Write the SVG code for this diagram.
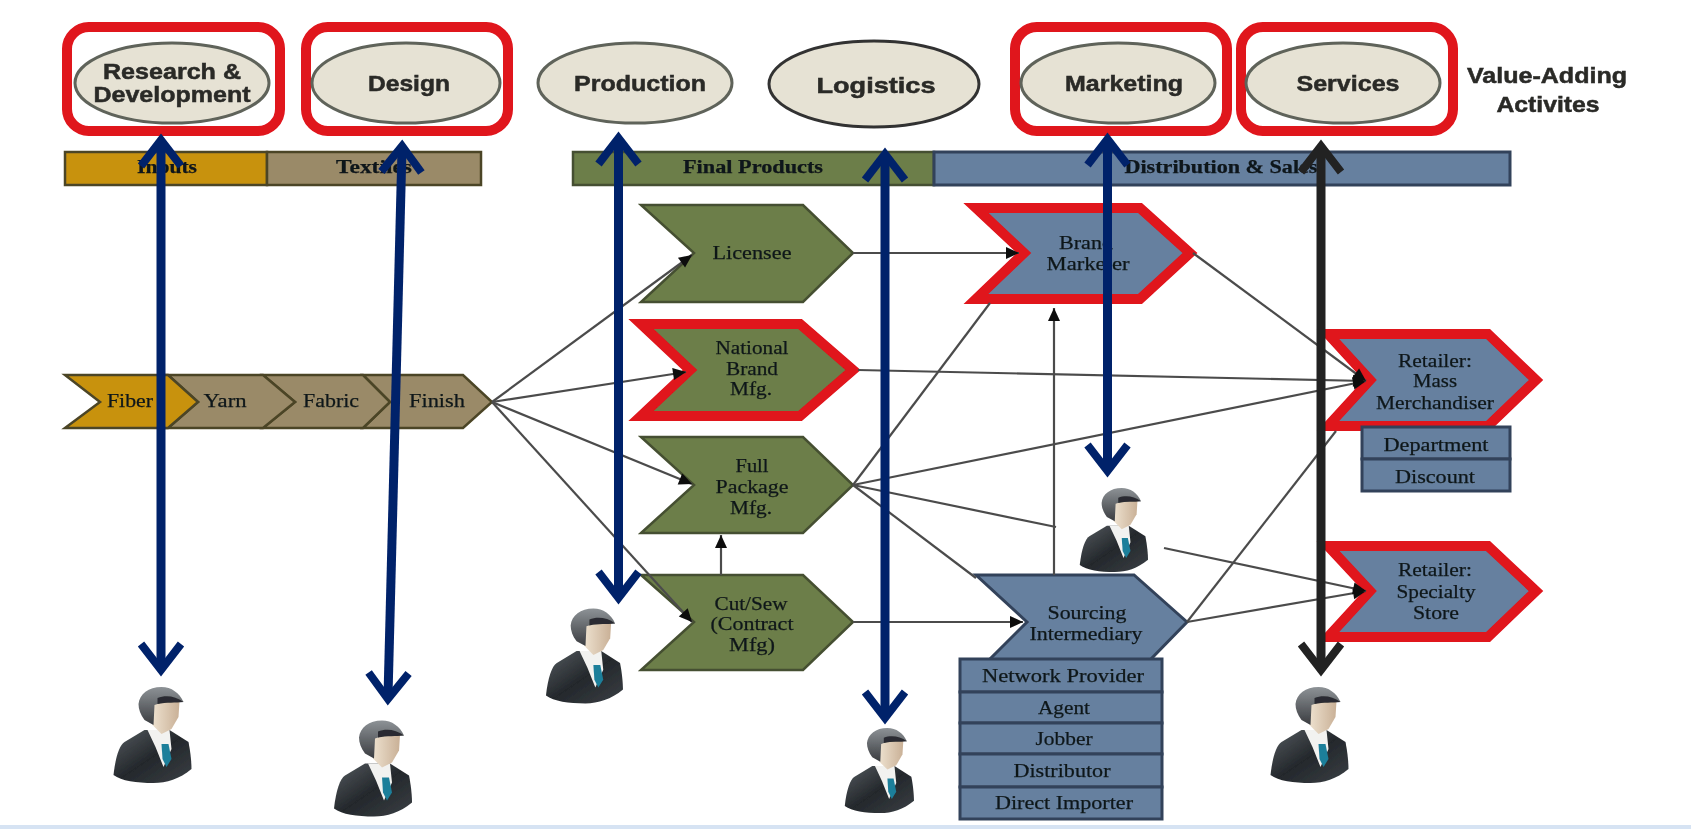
<svg xmlns="http://www.w3.org/2000/svg" xmlns:xlink="http://www.w3.org/1999/xlink" width="1691" height="829" viewBox="0 0 1691 829">
<style>
text{text-anchor:middle;dominant-baseline:central;font-family:"Liberation Serif","Times New Roman",serif;font-size:19px;fill:#10181a;stroke:#10181a;stroke-width:.25}
.sans{font-family:"Liberation Sans",Arial,sans-serif;font-weight:bold;font-size:22px;fill:#2a2a28;stroke:#2a2a28;stroke-width:.5}
.hd{font-weight:bold;font-size:18px;fill:#10141a}
.frame{fill:none;stroke:#e0121a;stroke-width:10}
.oval{fill:#e6e2d4;stroke:#5f635a;stroke-width:3}
.gold{fill:#c8920f;stroke:#4c4526;stroke-width:2.5}
.tan{fill:#9a8a68;stroke:#4c4526;stroke-width:2.5}
.olive{fill:#6c7e48;stroke:#454f30;stroke-width:2.5}
.slate{fill:#66809f;stroke:#33425a;stroke-width:3}
.redline{stroke:#e0121a;stroke-width:10}
.thin{fill:none;stroke:#4c4c4c;stroke-width:2.2}
.thin.a{marker-end:url(#tip)}
.big{fill:none;stroke:#05226b;stroke-width:9;marker-start:url(#openB);marker-end:url(#openB)}
.big.k{stroke:#222;marker-start:url(#openK);marker-end:url(#openK)}
</style>
<defs>
<filter id="soft" x="0" y="0" width="1691" height="829" filterUnits="userSpaceOnUse"><feGaussianBlur stdDeviation="0.6"/></filter>
<marker id="tip" markerUnits="userSpaceOnUse" viewBox="-14 -8 16 16" refX="0" refY="0" markerWidth="16" markerHeight="16" orient="auto"><path d="M-13,-6 L0,0 L-13,6 Z" fill="#0a0a0a"/></marker>
<marker id="openB" markerUnits="userSpaceOnUse" viewBox="-36 -30 50 60" refX="-3" refY="0" markerWidth="50" markerHeight="60" orient="auto-start-reverse"><path d="M-26,-20 L0,0 L-26,20" fill="none" stroke="#05226b" stroke-width="8"/></marker>
<marker id="openK" markerUnits="userSpaceOnUse" viewBox="-36 -30 50 60" refX="-3" refY="0" markerWidth="50" markerHeight="60" orient="auto-start-reverse"><path d="M-26,-20 L0,0 L-26,20" fill="none" stroke="#222" stroke-width="8"/></marker>
<linearGradient id="suit" x1="0" y1="0" x2="1" y2="1"><stop offset="0" stop-color="#555b60"/><stop offset="0.5" stop-color="#24282c"/><stop offset="1" stop-color="#3a3f44"/></linearGradient>
<linearGradient id="hair" x1="0" y1="0" x2="0" y2="1"><stop offset="0" stop-color="#8d9296"/><stop offset="1" stop-color="#3a3c40"/></linearGradient>
<linearGradient id="skin" x1="0" y1="0" x2="1" y2="0"><stop offset="0" stop-color="#eee2d0"/><stop offset="1" stop-color="#c9b096"/></linearGradient>
<symbol id="man" viewBox="0 0 80 96" overflow="visible">
<path d="M2,88 C4,70 8,58 13,55 L33,43 L58,43 L77,55 C79,65 80,75 80,82 C68,92 55,96 42,96 C25,96 10,94 2,88 Z" fill="url(#suit)"/>
<path d="M36,43 L58,43 L60,62 L52,80 L44,60 Z" fill="#f2f2f0"/>
<path d="M50,57 L57,57 L60,72 L55,80 L51,72 Z" fill="#1f7f9a"/>
<path d="M40,15 L68,14 L67,30 L60,42 L50,47 L41,38 Z" fill="url(#skin)"/>
<path d="M27,17 C28,7 37,0 50,0 C60,0 68,6 72,15 L55,14 L43,18 L42,38 L33,33 C29,28 27,22 27,17 Z" fill="url(#hair)"/>
<path d="M46,11 C54,8 64,9 72,15 C64,16 55,15 46,17 Z" fill="#2a2c30"/>
</symbol>
</defs>
<rect id="background" width="1691" height="829" fill="#fff"/>
<rect id="footer-band" y="825" width="1691" height="4" fill="#d6e3f3"/>
<g filter="url(#soft)">
<g id="activity-research"><rect class="frame" x="67" y="27" width="213" height="104" rx="22"/><ellipse class="oval" cx="172" cy="83" rx="97" ry="40"/><text class="sans" x="172" y="71" textLength="138" lengthAdjust="spacingAndGlyphs">Research &amp;</text><text class="sans" x="172" y="94" textLength="157" lengthAdjust="spacingAndGlyphs">Development</text></g>
<g id="activity-design"><rect class="frame" x="306" y="27" width="202" height="104" rx="22"/><ellipse class="oval" cx="406" cy="83" rx="94" ry="40"/><text class="sans" x="409" y="83" textLength="82" lengthAdjust="spacingAndGlyphs">Design</text></g>
<g id="activity-production"><ellipse class="oval" cx="635" cy="83" rx="97" ry="40"/><text class="sans" x="640" y="83" textLength="132" lengthAdjust="spacingAndGlyphs">Production</text></g>
<g id="activity-logistics"><ellipse class="oval" cx="874" cy="84" rx="105" ry="43" style="stroke:#333"/><text class="sans" x="876" y="85" textLength="119" lengthAdjust="spacingAndGlyphs">Logistics</text></g>
<g id="activity-marketing"><rect class="frame" x="1015" y="27" width="212" height="104" rx="22"/><ellipse class="oval" cx="1118" cy="83" rx="97" ry="40"/><text class="sans" x="1124" y="83" textLength="118" lengthAdjust="spacingAndGlyphs">Marketing</text></g>
<g id="activity-services"><rect class="frame" x="1241" y="27" width="212" height="104" rx="22"/><ellipse class="oval" cx="1343" cy="83" rx="97" ry="40"/><text class="sans" x="1348" y="83" textLength="103" lengthAdjust="spacingAndGlyphs">Services</text></g>
<g id="value-adding-label"><text class="sans" x="1547" y="75" textLength="160" lengthAdjust="spacingAndGlyphs">Value-Adding</text><text class="sans" x="1548" y="104" textLength="103" lengthAdjust="spacingAndGlyphs">Activites</text></g>

<g id="bar-inputs"><rect class="gold" x="65" y="152" width="202" height="33"/><text class="hd" x="167" y="167" textLength="60" lengthAdjust="spacingAndGlyphs">Inputs</text></g>
<g id="bar-textiles"><rect class="tan" x="267" y="152" width="214" height="33"/><text class="hd" x="374" y="167" textLength="76" lengthAdjust="spacingAndGlyphs">Textiles</text></g>
<g id="bar-final"><rect class="olive" x="573" y="152" width="361" height="33"/><text class="hd" x="753" y="167" textLength="140" lengthAdjust="spacingAndGlyphs">Final Products</text></g>
<g id="bar-distribution"><rect class="slate" x="934" y="152" width="576" height="33"/><text class="hd" x="1221" y="167" textLength="193" lengthAdjust="spacingAndGlyphs">Distribution &amp; Sales</text></g>

<g id="chain-finish"><polygon class="tan" points="363,375 463,375 492,402 463,428 363,428 390,402"/><text x="437" y="400" textLength="56" lengthAdjust="spacingAndGlyphs">Finish</text></g>
<g id="chain-fabric"><polygon class="tan" points="263,375 363,375 390,402 363,428 263,428 295,402"/><text x="331" y="400" textLength="56" lengthAdjust="spacingAndGlyphs">Fabric</text></g>
<g id="chain-yarn"><polygon class="tan" points="168,375 263,375 295,402 263,428 168,428 198,402"/><text x="225" y="400" textLength="43" lengthAdjust="spacingAndGlyphs">Yarn</text></g>
<g id="chain-fiber"><polygon class="gold" points="65,375 168,375 198,402 168,428 65,428 100,402"/><text x="130" y="400" textLength="46" lengthAdjust="spacingAndGlyphs">Fiber</text></g>

<g id="node-licensee"><polygon class="olive" points="641,205 803,205 853,253 803,302 641,302 694,253"/><text x="752" y="252" textLength="79" lengthAdjust="spacingAndGlyphs">Licensee</text></g>
<g id="node-national"><polygon class="olive redline" points="641,324 800,324 853,370 800,416 641,416 690,370"/><text x="752" y="347" textLength="73" lengthAdjust="spacingAndGlyphs">National</text><text x="752" y="368" textLength="52" lengthAdjust="spacingAndGlyphs">Brand</text><text x="751" y="388" textLength="42" lengthAdjust="spacingAndGlyphs">Mfg.</text></g>
<g id="node-full-package"><polygon class="olive" points="641,437 803,437 853,485 803,533 641,533 694,485"/><text x="752" y="465" textLength="33" lengthAdjust="spacingAndGlyphs">Full</text><text x="752" y="486" textLength="73" lengthAdjust="spacingAndGlyphs">Package</text><text x="751" y="507" textLength="42" lengthAdjust="spacingAndGlyphs">Mfg.</text></g>
<g id="node-cut-sew"><polygon class="olive" points="641,575 803,575 853,622 803,670 641,670 694,622"/><text x="751" y="603" textLength="73" lengthAdjust="spacingAndGlyphs">Cut/Sew</text><text x="752" y="623" textLength="83" lengthAdjust="spacingAndGlyphs">(Contract</text><text x="752" y="644" textLength="46" lengthAdjust="spacingAndGlyphs">Mfg)</text></g>

<g id="node-brand-marketer"><polygon class="slate redline" points="976,208 1140,208 1190,253 1140,299 976,299 1024,253"/><text x="1086" y="242" textLength="54" lengthAdjust="spacingAndGlyphs">Brand</text><text x="1088" y="263" textLength="83" lengthAdjust="spacingAndGlyphs">Marketer</text></g>
<g id="node-retailer-mass"><polygon class="slate redline" points="1328,334 1488,334 1536,380 1488,426 1328,426 1370,380"/><text x="1435" y="360" textLength="74" lengthAdjust="spacingAndGlyphs">Retailer:</text><text x="1435" y="380" textLength="44" lengthAdjust="spacingAndGlyphs">Mass</text><text x="1435" y="402" textLength="118" lengthAdjust="spacingAndGlyphs">Merchandiser</text></g>
<g id="list-retail"><rect class="slate" x="1362" y="427" width="148" height="32"/><rect class="slate" x="1362" y="459" width="148" height="32"/><text x="1436" y="444" textLength="105" lengthAdjust="spacingAndGlyphs">Department</text><text x="1435" y="476" textLength="80" lengthAdjust="spacingAndGlyphs">Discount</text></g>
<g id="node-retailer-specialty"><polygon class="slate redline" points="1328,546 1488,546 1536,591 1488,637 1328,637 1370,591"/><text x="1435" y="569" textLength="74" lengthAdjust="spacingAndGlyphs">Retailer:</text><text x="1436" y="591" textLength="79" lengthAdjust="spacingAndGlyphs">Specialty</text><text x="1436" y="612" textLength="46" lengthAdjust="spacingAndGlyphs">Store</text></g>
<g id="node-sourcing"><polygon class="slate" points="976,575 1134,575 1187,622 1150,660 989,660 1027,622"/><text x="1087" y="612" textLength="79" lengthAdjust="spacingAndGlyphs">Sourcing</text><text x="1086" y="633" textLength="113" lengthAdjust="spacingAndGlyphs">Intermediary</text></g>
<g id="list-sourcing"><rect class="slate" x="960" y="659" width="202" height="33"/><rect class="slate" x="960" y="692" width="202" height="31"/><rect class="slate" x="960" y="723" width="202" height="31"/><rect class="slate" x="960" y="754" width="202" height="33"/><rect class="slate" x="960" y="787" width="202" height="32"/><text x="1063" y="675" textLength="162" lengthAdjust="spacingAndGlyphs">Network Provider</text><text x="1064" y="707" textLength="52" lengthAdjust="spacingAndGlyphs">Agent</text><text x="1064" y="738" textLength="57" lengthAdjust="spacingAndGlyphs">Jobber</text><text x="1062" y="770" textLength="97" lengthAdjust="spacingAndGlyphs">Distributor</text><text x="1064" y="802" textLength="138" lengthAdjust="spacingAndGlyphs">Direct Importer</text></g>

<g id="connectors">
<path class="thin a" d="M492,402 L692,255"/>
<path class="thin a" d="M492,402 L686,372"/>
<path class="thin a" d="M492,402 L692,484"/>
<path class="thin a" d="M492,402 L692,622"/>
<path class="thin a" d="M853,253 L1019,253"/>
<path class="thin a" d="M721,575 L721,535"/>
<path class="thin a" d="M853,622 L1023,622"/>
<path class="thin a" d="M1054,575 L1054,308"/>
<path class="thin a" d="M858,370 L1366,381"/>
<path class="thin a" d="M853,485 L1366,381"/>
<path class="thin a" d="M1193,253 L1366,381"/>
<path class="thin a" d="M1187,622 L1366,591"/>
<path class="thin a" d="M1164,548 L1366,591"/>
<path class="thin" d="M853,485 L990,303"/>
<path class="thin" d="M853,485 L1056,527"/>
<path class="thin" d="M853,485 L976,578"/>
<path class="thin" d="M1187,622 L1336,431"/>
<path class="big" d="M161,143 L161,667"/>
<path class="big" d="M402,149 L388,696"/>
<path class="big" d="M618.500,141 L618.500,595"/>
<path class="big" d="M885,157 L885,715"/>
<path class="big" d="M1107.500,142 L1107.500,468"/>
<path class="big k" d="M1321,149 L1321,667"/>
</g>

<g id="person-research"><use href="#man" x="111" y="687" width="81" height="96"/></g>
<g id="person-design"><use href="#man" x="332" y="720" width="80" height="97"/></g>
<g id="person-production"><use href="#man" x="544" y="607" width="79" height="98"/></g>
<g id="person-logistics"><use href="#man" x="843" y="727" width="71" height="87"/></g>
<g id="person-marketing"><use href="#man" x="1078" y="488" width="70" height="84"/></g>
<g id="person-services"><use href="#man" x="1268" y="687" width="81" height="96"/></g>
</g>
</svg>
